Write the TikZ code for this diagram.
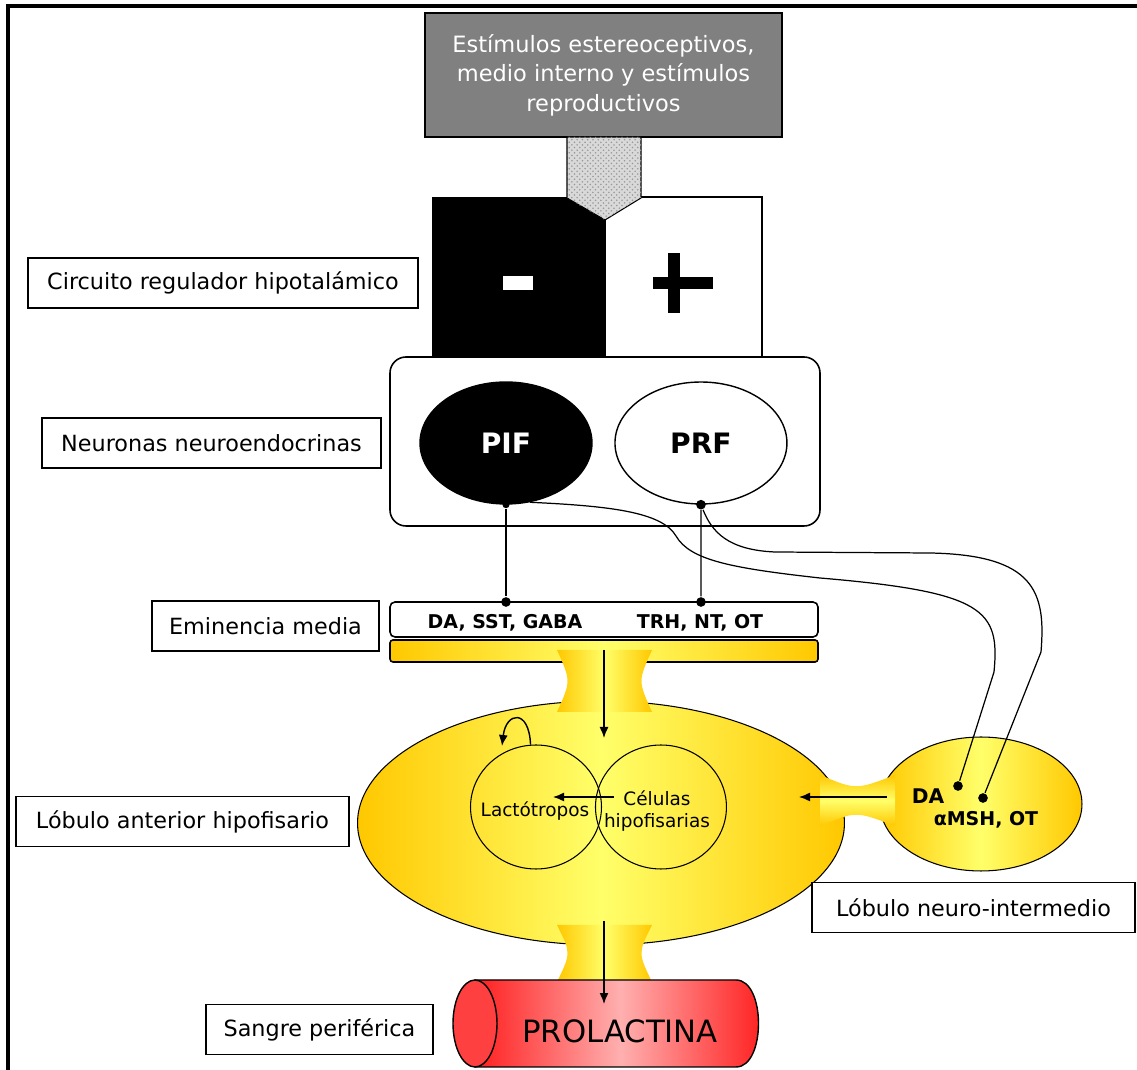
\documentclass[tikz,border=0pt]{standalone}
\usepackage{fontspec}
\setmainfont{DejaVu Sans}
\usepackage{tikz}
\usetikzlibrary{arrows.meta, positioning, shapes.geometric, patterns}
\tikzset{>={Latex[width=1.8mm,length=2.2mm]}}
\definecolor{gold}{HTML}{FFC800}
\definecolor{lite}{HTML}{FFFF6A}
\definecolor{blood}{HTML}{FF1E1E}
\definecolor{pale}{HTML}{FFB0B0}
\definecolor{stimgray}{HTML}{808080}

\begin{document}
\begin{tikzpicture}[x=0.02cm, y=-0.02cm, on grid, thick,
	tag/.style = {draw, fill=white, line width=0.9pt, inner sep=0pt, minimum height=1cm, font=\fontsize{12.7}{15}\selectfont},
	gland/.style = {ellipse, draw, line width=0.6pt, inner sep=0pt, left color=gold, right color=gold, middle color=lite},
	cell/.style = {ellipse, draw, line width=0.6pt, inner sep=0pt, minimum width=2.62cm, minimum height=2.48cm},
	celltext/.style = {font=\fontsize{10.5}{13}\selectfont, align=center},
	neuron/.style = {ellipse, draw, line width=0.8pt, inner sep=0pt, minimum width=3.44cm, minimum height=2.44cm, font=\fontsize{16}{20}\selectfont\bfseries},
	dot/.style = {circle, fill, inner sep=0pt, minimum size=5.5pt},
	chem/.style = {font=\fontsize{10.8}{13}\selectfont\bfseries}]
		\useasboundingbox (0,0) rectangle (1137,1070);
		\draw[line width=2pt] (8,1070) -- (8,6) -- (1137,6);
		% hypothalamus
		\node (stim) [draw, fill=stimgray, text=white, line width=0.9pt, align=center, minimum width=7.14cm, minimum height=2.48cm, font=\fontsize{12.8}{16.8}\selectfont] at (603.5,75) {Estímulos estereoceptivos,\\medio interno y estímulos\\reproductivos};
		\node (neg) [fill=black, minimum width=3.46cm, minimum height=3.2cm] at (518.5,277) {};
		\node (pos) [draw, fill=white, line width=0.8pt, minimum width=3.14cm, minimum height=3.2cm] at (683.5,277) {};
		\fill[white] (503,276) rectangle (533,290);
		\fill (668,253) rectangle (680,313);
		\fill (653,277) rectangle (713,289);
		\filldraw[fill=gray!30, line width=0.6pt] (567,137) -- (641,137) -- (641,198) -- (605,220) -- (567,198) -- cycle;
		\path[pattern=crosshatch dots, pattern color=gray!80] (567,137) -- (641,137) -- (641,198) -- (605,220) -- (567,198) -- cycle;
		% neurons
		\draw[line width=0.9pt, rounded corners=0.32cm, fill=white] (390,357) rectangle (820,526);
		\node (PIF) [neuron, fill=black, text=white] at (506,443) {PIF};
		\node (PRF) [neuron, right = 3.9cm of PIF] {PRF};
		% median eminence
		\draw[line width=0.9pt, rounded corners=0.1cm, fill=white] (390,602) rectangle (818,637);
		\draw[line width=0.9pt, rounded corners=0.06cm, left color=gold, right color=gold, middle color=lite] (390,640) rectangle (818,662);
		\node (emA) [chem] at (505,623) {DA, SST, GABA};
		\node (emB) [chem] at (700,623) {TRH, NT, OT};
		\node (p1) [dot, minimum size=4pt] at (PIF.south) {};
		\node (p2) [dot] at (PRF.south) {};
		\node (d1) [dot] at (506,602) {};
		\node (d2) [dot] at (701,602) {};
		\draw (p1) -- (d1);
		\draw (p2) -- (d2);
		% pituitary
		\node (ant) [gland, minimum width=9.74cm, minimum height=4.88cm] at (601,823) {};
		\node (ni) [gland, minimum width=4.04cm, minimum height=2.68cm] at (981,804) {};
		\shade[left color=gold, right color=gold, middle color=lite] (557,650) -- (652,650) .. controls (638,681) .. (652,712) -- (557,712) .. controls (571,681) .. (557,650) -- cycle;
		\shade[left color=gold, right color=gold, middle color=lite] (557,925) -- (652,925) .. controls (638,953) .. (652,982) -- (557,982) .. controls (571,953) .. (557,925) -- cycle;
		\shade[top color=gold, bottom color=gold, middle color=lite] (820,775) .. controls (856,790) .. (895,775) -- (895,826) .. controls (856,811) .. (820,826) -- cycle;
		\node (lact) [cell] at (536,807) {};
		\node (cel) [cell, right = 2.5cm of lact] {};
		\node (lacttext) [celltext] at (535,811) {Lactótropos};
		\node (celtext) [celltext] at (657,811) {Células\\hipofisarias};
		\coordinate (pv1) at (604,650);
		\coordinate (pv2) at (604,738);
		\draw[->] (pv1) -- (pv2);
		\coordinate (cs) at (614,797);
		\coordinate (ce) at (553,797);
		\draw[->] (cs) -- (ce);
		\draw[->] (lact.95) .. controls (529,708) and (506,712) .. (502,746);
		\coordinate (ns) at (887,797);
		\coordinate (ne) at (799,797);
		\draw[->] (ns) -- (ne);
		\node (nda) [chem, font=\fontsize{11.5}{13}\selectfont\bfseries] at (928,796) {DA};
		\node (nmsh) [chem] at (986,820) {αMSH, OT};
		\node (n1) [dot] at (958,786) {};
		\node (n2) [dot] at (983,798) {};
		\draw[line width=0.7pt] (PIF.-68) .. controls (610,506) and (662,512) .. (676,536) .. controls (690,560) and (730,568) .. (820,578) .. controls (985,592) and (1000,610) .. (994,672) -- (n1);
		\draw[line width=0.7pt] (p2) .. controls (712,532) and (728,550) .. (775,552) -- (930,553) .. controls (1035,555) and (1046,592) .. (1041,652) -- (n2);
		% blood
		\shadedraw[line width=0.8pt, left color=blood, right color=blood, middle color=pale] (475,980) -- (736,980) .. controls (766,980) and (766,1067) .. (736,1067) -- (475,1067) -- cycle;
		\node (cap) [ellipse, draw, line width=0.8pt, fill=blood!85, inner sep=0pt, minimum width=0.88cm, minimum height=1.74cm] at (475,1023.5) {};
		\node (prl) [font=\fontsize{17.5}{20}\selectfont] at (620,1031) {PROLACTINA};
		\coordinate (b1) at (604,921);
		\coordinate (b2) at (604,1004);
		\draw[->] (b1) -- (b2);
		% labels
		\node (circ) [tag, minimum width=7.8cm] at (223,283) {Circuito regulador hipotalámico};
		\node (neur) [tag, minimum width=6.78cm] at (211.5,443) {Neuronas neuroendocrinas};
		\node (emin) [tag, minimum width=4.54cm] at (265.5,626) {Eminencia media};
		\node (lant) [tag, minimum width=6.66cm] at (182.5,821.5) {Lóbulo anterior hipofisario};
		\node (lni) [tag, minimum width=6.46cm] at (973.5,907.5) {Lóbulo neuro-intermedio};
		\node (sang) [tag, minimum width=4.54cm] at (319.5,1029.5) {Sangre periférica};
\end{tikzpicture}
\end{document}
